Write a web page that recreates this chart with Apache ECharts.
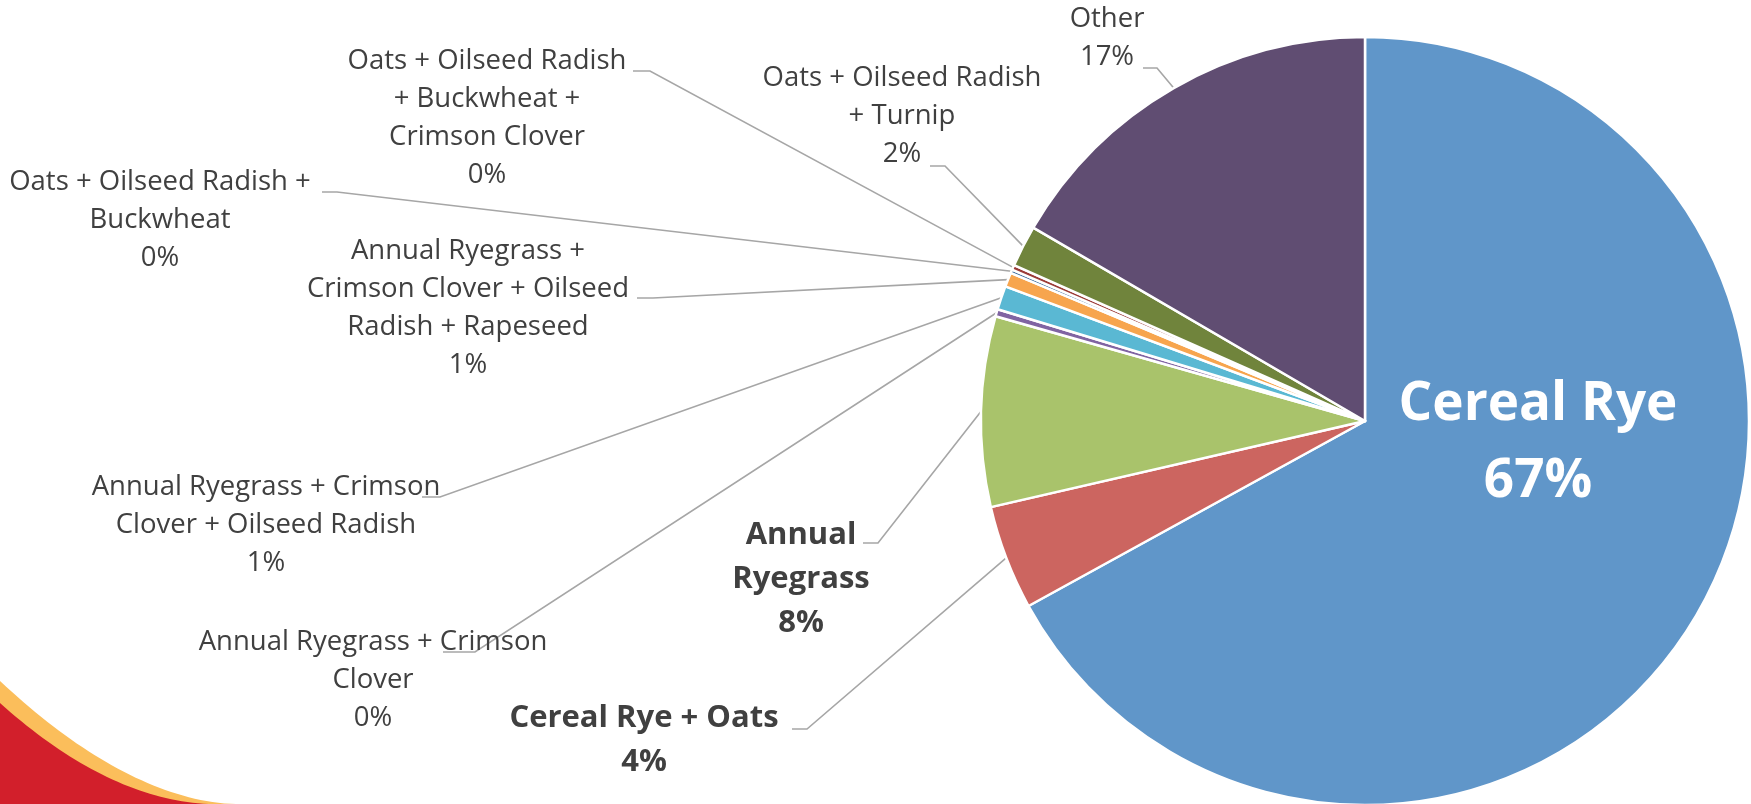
<!DOCTYPE html>
<html><head><meta charset="utf-8">
<script src="https://cdn.jsdelivr.net/npm/echarts@6/dist/echarts.min.js"></script>
<style>html,body{margin:0;padding:0;background:#fff;overflow:hidden}#c{width:1751px;height:804px}</style>
</head><body><div id="c"></div>
<script>
// ---- data ----
const categories = [
  'Cereal Rye',
  'Cereal Rye + Oats',
  'Annual Ryegrass',
  'Annual Ryegrass + Crimson Clover',
  'Annual Ryegrass + Crimson Clover + Oilseed Radish',
  'Annual Ryegrass + Crimson Clover + Oilseed Radish + Rapeseed',
  'Oats + Oilseed Radish + Buckwheat',
  'Oats + Oilseed Radish + Buckwheat + Crimson Clover',
  'Oats + Oilseed Radish + Turnip',
  'Other'
];
const shares = [67.0, 4.4, 8.0, 0.3, 1.0, 0.6, 0.15, 0.2, 1.75, 16.6];
// wrapped label text, as in the original
const labelText = [
  'Cereal Rye',
  'Cereal Rye + Oats',
  'Annual\nRyegrass',
  'Annual Ryegrass + Crimson\nClover',
  'Annual Ryegrass + Crimson\nClover + Oilseed Radish',
  'Annual Ryegrass +\nCrimson Clover + Oilseed\nRadish + Rapeseed',
  'Oats + Oilseed Radish +\nBuckwheat',
  'Oats + Oilseed Radish\n+ Buckwheat +\nCrimson Clover',
  'Oats + Oilseed Radish\n+ Turnip',
  'Other'
];

// ---- styles / layout ----
const colors = ['#6096C9', '#CC6560', '#A9C36B', '#8064A2', '#5AB8D3', '#F7A54E', '#3D6C9D', '#9B3B38', '#70843C', '#604D72'];
// [labelCenterX, labelCenterY, elbowX, elbowY, endX, endY]
const labelPlace = [
  [1538, 443, 0, 0, 0, 0],
  [644, 740, 807, 729, 792, 729],
  [801, 579, 878, 543, 863, 543],
  [373, 680, 475, 652, 443, 652],
  [266, 525, 440, 497, 422, 497],
  [468, 308, 653, 298, 637, 298],
  [160, 220, 337, 192, 322, 192],
  [487, 118, 650, 71, 633, 71],
  [902, 116, 945, 166, 930, 166],
  [1107, 38, 1157, 68, 1143, 68]
];
const CX = 1365, CY = 421, R = 384;
const FONT = '"Open Sans", "Noto Sans", sans-serif';

function labelStyle(i) {
  if (i === 0) return {color: '#ffffff', fontWeight: 'bold', fontSize: 53, lineHeight: 77, fontFamily: FONT, position: 'inside'};
  if (i === 1 || i === 2) return {color: '#404040', fontWeight: 'bold', fontSize: 31, lineHeight: 44, fontFamily: FONT, position: 'outside'};
  return {color: '#404040', fontWeight: 'normal', fontSize: 27.5, lineHeight: 38, fontFamily: FONT, position: 'outside'};
}

const data = categories.map((name, i) => ({
  name: name,
  value: shares[i],
  itemStyle: {color: colors[i]},
  label: labelStyle(i),
  labelLine: {show: i !== 0}
}));

const total = shares.reduce((a, b) => a + b, 0);
function edgePoint(i) {
  let acc = 0;
  for (let k = 0; k < i; k++) acc += shares[k];
  const mid = (acc + shares[i] / 2) / total * Math.PI * 2;
  return [CX + R * Math.sin(mid), CY - R * Math.cos(mid)];
}

// decorative corner swoosh
function swoosh(topY, endX, k) {
  const pts = [];
  const h = 804 - topY;
  for (let s = 0; s <= 40; s++) {
    const x = endX * s / 40;
    pts.push([x, 804 - h * Math.pow(1 - x / endX, k)]);
  }
  pts.push([0, 804]);
  return pts;
}

const chart = echarts.init(document.getElementById('c'), null, {renderer: 'canvas'});
chart.setOption({
  animation: false,
  backgroundColor: '#ffffff',
  graphic: [
    {type: 'polygon', z: 0, silent: true, shape: {points: swoosh(681, 236, 1.8)}, style: {fill: '#FBBE5B'}},
    {type: 'polygon', z: 1, silent: true, shape: {points: swoosh(703, 214, 1.9)}, style: {fill: '#D21F2B'}}
  ],
  series: [{
    type: 'pie',
    center: [CX, CY],
    radius: R,
    startAngle: 90,
    clockwise: true,
    avoidLabelOverlap: false,
    minShowLabelAngle: 0,
    itemStyle: {borderColor: '#ffffff', borderWidth: 2.5},
    emphasis: {disabled: true},
    label: {
      show: true,
      formatter: p => labelText[p.dataIndex] + '\n' + Math.round(p.percent) + '%'
    },
    labelLine: {show: true, smooth: false, length: 10, length2: 10, lineStyle: {color: '#A6A6A6', width: 1.6}},
    labelLayout: function (p) {
      const i = p.dataIndex;
      const L = labelPlace[i];
      const out = {x: L[0], y: L[1], align: 'center', verticalAlign: 'middle', hideOverlap: false};
      if (i !== 0) {
        const start = (p.labelLinePoints && p.labelLinePoints[0]) ? p.labelLinePoints[0] : edgePoint(i);
        out.labelLinePoints = [start, [L[2], L[3]], [L[4], L[5]]];
      }
      return out;
    },
    data: data
  }]
});
</script>
</body></html>
